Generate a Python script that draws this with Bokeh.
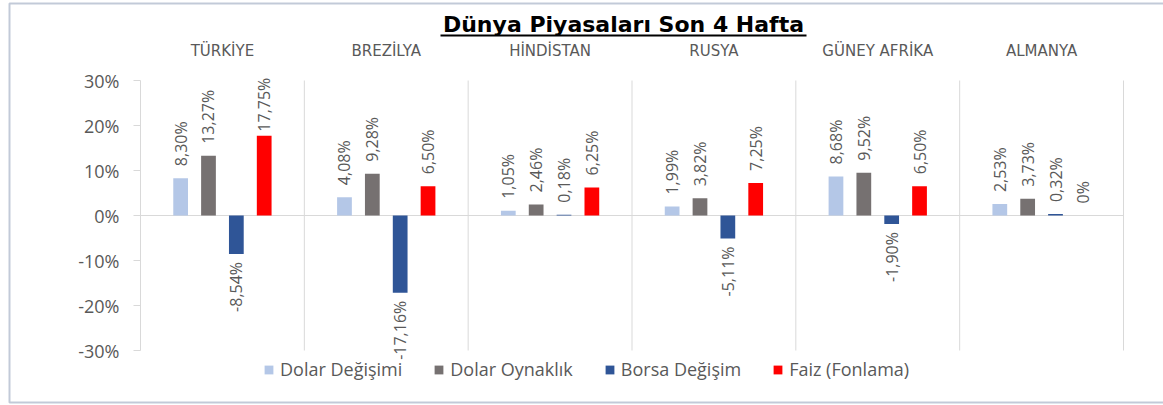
from math import pi
from bokeh.plotting import figure
from bokeh.models import (Range1d, FixedTicker, PrintfTickFormatter, CustomJSTickFormatter,
                          LinearAxis, Label, BoxAnnotation, ColumnDataSource)
from bokeh.transform import dodge
from bokeh.core.properties import value
from bokeh.embed import file_html
from bokeh.resources import INLINE

# ---------------- data ----------------
title_text = "Dünya Piyasaları Son 4 Hafta"
categories = ["TÜRKİYE", "BREZİLYA", "HİNDİSTAN", "RUSYA", "GÜNEY AFRİKA", "ALMANYA"]
series_names = ["Dolar Değişimi", "Dolar Oynaklık", "Borsa Değişim", "Faiz (Fonlama)"]
dolar_degisimi = [8.30, 4.08, 1.05, 1.99, 8.68, 2.53]
dolar_oynaklik = [13.27, 9.28, 2.46, 3.82, 9.52, 3.73]
borsa_degisim = [-8.54, -17.16, 0.18, -5.11, -1.90, 0.32]
faiz_fonlama = [17.75, 6.50, 6.25, 7.25, 6.50, 0.0]
y_ticks = [-30, -20, -10, 0, 10, 20, 30]

series_values = [dolar_degisimi, dolar_oynaklik, borsa_degisim, faiz_fonlama]
series_colors = ["#B4C7E7", "#767171", "#2F5597", "#FF0000"]
series_offsets = [-0.255, -0.085, 0.085, 0.255]
BAR_W = 0.09

# ---------------- layout (screen px) ----------------
W, H = 1163, 405
FL, FR, FT, FB = 140, 1123, 80, 350   # plot-area edges
GRAY = "#595959"
LINE = "#D9D9D9"
FONT = "Open Sans"

n = len(categories)
ppx = (FR - FL) / n                              # px per category
ppy = (FB - FT) / (y_ticks[-1] - y_ticks[0])     # px per percent
x_range = Range1d(-FL / ppx, n + (W - FR) / ppx)
y_range = Range1d(y_ticks[0] - (H - FB) / ppy, y_ticks[-1] + FT / ppy)

p = figure(width=W, height=H, x_range=x_range, y_range=y_range,
           x_axis_type=None, y_axis_type=None,
           output_backend="svg", toolbar_location=None,
           min_border_left=0, min_border_right=0, min_border_top=0, min_border_bottom=0)
p.title.visible = False
p.outline_line_color = None
p.xgrid.visible = False
p.ygrid.visible = False
p.background_fill_color = "white"
p.border_fill_color = "white"

centers = [i + 0.5 for i in range(n)]

# value axis (drawn at the left edge of the category area)
ya = LinearAxis(fixed_location=0, bounds=(y_ticks[0], y_ticks[-1]),
                ticker=FixedTicker(ticks=y_ticks),
                formatter=PrintfTickFormatter(format="%d%%"))
ya.axis_line_color = LINE
ya.major_tick_line_color = LINE
ya.major_tick_out = 7
ya.major_tick_in = 0
ya.minor_tick_line_color = None
ya.major_label_text_font = FONT
ya.major_label_text_font_size = "18px"
ya.major_label_text_color = GRAY
ya.major_label_standoff = 14
p.add_layout(ya, "left")

# category axis (above the plot area)
xa = LinearAxis(fixed_location=y_ticks[-1], bounds=(0, n),
                ticker=FixedTicker(ticks=centers),
                formatter=CustomJSTickFormatter(args=dict(cats=categories),
                                                code="return cats[Math.round(tick - 0.5)];"))
xa.axis_line_color = None
xa.major_tick_line_color = None
xa.minor_tick_line_color = None
xa.major_label_text_font = "DejaVu Sans"
xa.major_label_text_font_size = "15px"
xa.major_label_text_color = GRAY
xa.major_label_standoff = 15
p.add_layout(xa, "above")

# separators and zero line
p.segment(x0=list(range(1, n + 1)), x1=list(range(1, n + 1)),
          y0=y_ticks[0], y1=y_ticks[-1], line_color=LINE, line_width=1)
p.segment(x0=[0], x1=[n], y0=[0], y1=[0], line_color=LINE, line_width=1)

# ---------------- bars + labels ----------------
def fmt(v):
    return "0%" if v == 0 else f"{v:.2f}".replace(".", ",") + "%"


for name, vals, col, off in zip(series_names, series_values, series_colors, series_offsets):
    src = ColumnDataSource(dict(xc=centers, val=vals))
    p.vbar(x=dodge("xc", off), top="val", bottom=0, width=BAR_W,
           source=src, fill_color=col, line_color=None, legend_label=name)

    pos = dict(xc=[], val=[], lab=[], yoff=[])
    neg = dict(xc=[], val=[], lab=[], yoff=[])
    for c, v in zip(centers, vals):
        lab = fmt(v)
        if v >= 0:
            est_len = 8.9 * len(lab)
            room = (y_ticks[-1] - v) * ppy
            pad = max(4, min(12, room - est_len))
            pos["xc"].append(c); pos["val"].append(v); pos["lab"].append(lab); pos["yoff"].append(-pad)
        else:
            neg["xc"].append(c); neg["val"].append(v); neg["lab"].append(lab); neg["yoff"].append(8)
    for d, align in ((pos, "left"), (neg, "right")):
        if d["xc"]:
            p.text(x=dodge("xc", off), y="val", text="lab", y_offset="yoff",
                   source=ColumnDataSource(d), angle=pi / 2, text_align=align,
                   text_baseline="middle", text_font=value(FONT), text_font_size="16px",
                   text_color=GRAY)

# ---------------- legend ----------------
lg = p.legend[0]
lg.orientation = "horizontal"
lg.location = (263, H - 381)
lg.glyph_width = 11
lg.glyph_height = 11
lg.label_standoff = 6
lg.spacing = 31
lg.padding = 0
lg.margin = 0
lg.border_line_color = None
lg.background_fill_alpha = 0
lg.label_text_font = FONT
lg.label_text_font_size = "18px"
lg.label_text_color = GRAY

# ---------------- title, underline, outer border ----------------
TITLE_CX = 623
TITLE_HALF_W = 183
p.add_layout(Label(x=TITLE_CX, y=H - 24, x_units="screen", y_units="screen",
                   text=title_text, text_align="center", text_baseline="middle",
                   text_font="DejaVu Sans", text_font_style="bold", text_font_size="22px",
                   text_color="black"))
p.add_layout(BoxAnnotation(left=TITLE_CX - TITLE_HALF_W, right=TITLE_CX + TITLE_HALF_W,
                           top=H - 34, bottom=H - 36,
                           left_units="screen", right_units="screen",
                           top_units="screen", bottom_units="screen",
                           fill_color="black", fill_alpha=1, line_color=None))
p.add_layout(BoxAnnotation(left=9, right=W + 30, top=H - 3, bottom=H - 402,
                           left_units="screen", right_units="screen",
                           top_units="screen", bottom_units="screen",
                           fill_alpha=0, line_color="#34507E", line_width=2))

open("out.html", "w").write(file_html(p, INLINE))
